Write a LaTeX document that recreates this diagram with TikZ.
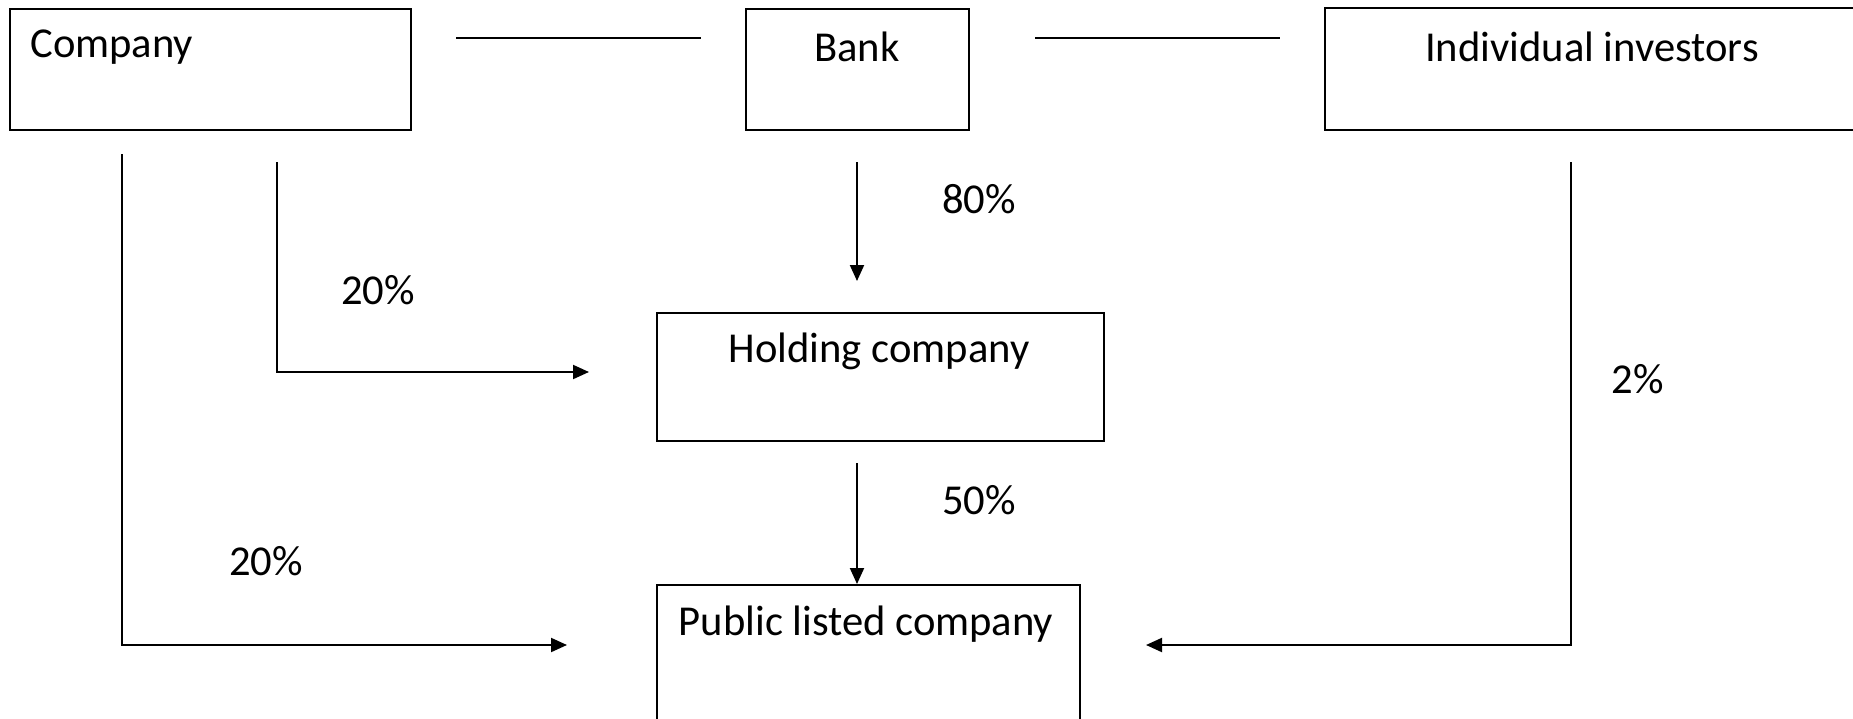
\documentclass[tikz,border=0pt]{standalone}
\usepackage{fontspec}
\setmainfont{Carlito}
\usetikzlibrary{arrows.meta}
\begin{document}
\begin{tikzpicture}[x=0.5pt,y=-0.5pt,
  box/.style={draw,line width=1.1pt,inner sep=0pt,anchor=north west},
  txt/.style={font=\fontsize{21.3}{25}\selectfont,inner sep=0pt},
  conn/.style={line width=1pt},
  arr/.style={conn,-{Triangle[length=8pt,width=7pt]}}]
\useasboundingbox (0,0) rectangle (1853,718);
% boxes
\node[box,minimum width=200.5pt,minimum height=60.5pt] (company) at (9,8) {};
\node[box,minimum width=111.5pt,minimum height=60.5pt] (bank) at (745,8) {};
\node[inner sep=0pt,anchor=north west,minimum width=270pt,minimum height=60.5pt] (indiv) at (1325,8) {};
\draw[line width=1.1pt] (indiv.north east) -- (indiv.north west) -- (indiv.south west) -- (indiv.south east);
\node[box,minimum width=223.5pt,minimum height=64pt] (holding) at (656,312) {};
\node[box,minimum width=211.5pt,minimum height=72pt] (plc) at (656,584) {};
% texts
\node[txt,anchor=west] (tcompany) at (30,47) {Company};
\node[txt] (tbank) at (857,47) {Bank};
\node[txt] (tindiv) at (1592,47) {Individual investors};
\node[txt] (tholding) at (879,351) {Holding company};
\node[txt] (tplc) at (866,624) {Public listed company};
% percentages
\node[txt] (p20a) at (378,290) {20\%};
\node[txt] (p80) at (979,199) {80\%};
\node[txt] (p50) at (979,500) {50\%};
\node[txt] (p20b) at (266,561) {20\%};
\node[txt] (p2) at (1638,379) {2\%};
% connector coordinates
\coordinate (cb1) at (456,38);  \coordinate (cb2) at (701,38);
\coordinate (bi1) at (1035,38); \coordinate (bi2) at (1280,38);
\coordinate (l1s) at (122,154); \coordinate (l1c) at (122,645); \coordinate (l1e) at (567,645);
\coordinate (l2s) at (277,162); \coordinate (l2c) at (277,372); \coordinate (l2e) at (589,372);
\coordinate (bks) at (857,162); \coordinate (bke) at (857,281);
\coordinate (hls) at (857,463);
\coordinate (rs) at (1571,162); \coordinate (rc) at (1571,645); \coordinate (re) at (1146,645);
% connectors
\draw[conn] (cb1) -- (cb2);
\draw[conn] (bi1) -- (bi2);
\draw[arr] (l1s) -- (l1c) -- (l1e);
\draw[arr] (l2s) -- (l2c) -- (l2e);
\draw[arr] (bks) -- (bke);
\draw[arr] (hls) -- (hls |- plc.north);
\draw[arr] (rs) -- (rc) -- (re);
\end{tikzpicture}
\end{document}
